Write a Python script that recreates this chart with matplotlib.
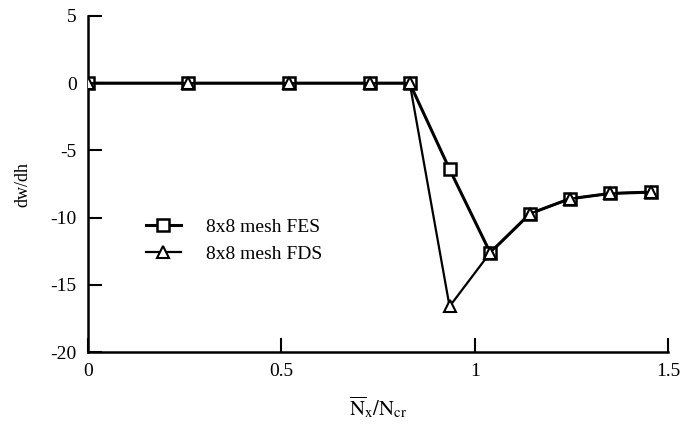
import matplotlib
matplotlib.use('Agg')
import matplotlib.pyplot as plt

# load ratio values
x = [0.0, 0.26, 0.52, 0.73, 0.832, 0.935, 1.04, 1.143, 1.245, 1.35, 1.455]
fes = [0.0, 0.0, 0.0, 0.0, 0.0, -6.4, -12.6, -9.7, -8.6, -8.2, -8.1]
fds = [0.0, 0.0, 0.0, 0.0, 0.0, -16.6, -12.6, -9.7, -8.6, -8.2, -8.1]

plt.rcParams['font.family'] = ['Liberation Serif', 'DejaVu Serif']
plt.rcParams['mathtext.fontset'] = 'stix'
plt.rcParams['axes.unicode_minus'] = False

fig = plt.figure(figsize=(6.86, 4.30), dpi=100)
ax = fig.add_axes([0.128, 0.181, 0.846, 0.782])

ax.plot(x, fes, color='black', lw=2.2, marker='s', ms=8.5, mfc='white',
        mec='black', mew=1.8, label='8x8 mesh FES', zorder=3)
ax.plot(x, fds, color='black', lw=1.6, marker='^', ms=8.5, mfc='white',
        mec='black', mew=1.5, label='8x8 mesh FDS', zorder=4)

ax.set_xlim(0, 1.5)
ax.set_ylim(-20, 5)
ax.set_xticks([0, 0.5, 1, 1.5])
ax.set_xticklabels(['0', '0.5', '1', '1.5'])
ax.set_yticks([5, 0, -5, -10, -15, -20])
ax.tick_params(direction='in', length=10, width=1.5, labelsize=14, pad=8)
for s in ['top', 'right']:
    ax.spines[s].set_visible(False)
for s in ['left', 'bottom']:
    ax.spines[s].set_linewidth(1.8)

ax.set_ylabel('dw/dh', fontsize=13, labelpad=14)
ax.set_xlabel(r'$\overline{\mathrm{N}}_{\mathrm{x}}/\mathrm{N}_{\mathrm{cr}}$',
              fontsize=15, labelpad=10)

ax.legend(loc='upper left', bbox_to_anchor=(0.07, 0.45), frameon=False,
          fontsize=14, handlelength=1.8, handletextpad=1.3, labelspacing=0.5)

fig.savefig('out.png', dpi=100)
